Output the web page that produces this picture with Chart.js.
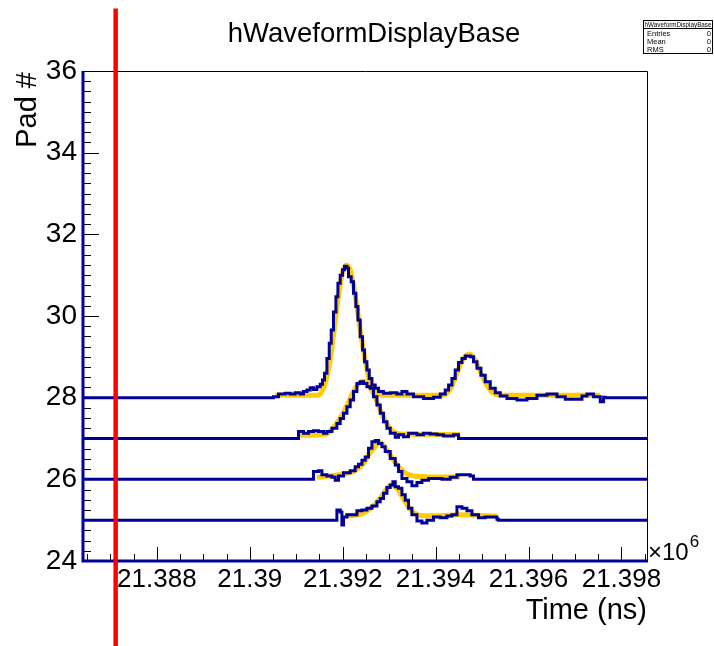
<!DOCTYPE html>
<html>
<head>
<meta charset="utf-8">
<script src="https://cdn.jsdelivr.net/npm/chart.js@4.4.0/dist/chart.umd.min.js"></script>
<style>
html, body { margin: 0; padding: 0; background: #fff; }
canvas { display: block; }
</style>
</head>
<body>
<canvas id="c" width="714" height="646"></canvas>
<script>
// axis ranges (time in ns, pads)
var xRange = [21386410, 21398550];
var yRange = [24, 36];
var xTickValues = [21388000, 21390000, 21392000, 21394000, 21396000, 21398000];
var yTickValues = [24, 26, 28, 30, 32, 34, 36];

// red marker line
var markerTime = 21387113;
var markerSpan = [21.9, 37.53];

// pad 28 waveform + fit
var pad28Time = [21390510, 21390618, 21390762, 21390870, 21390978, 21391085, 21391156, 21391230, 21391301, 21391372,
  21391445, 21391516, 21391565, 21391608, 21391660, 21391710, 21391753, 21391802, 21391854, 21391897,
  21391946, 21391996, 21392039, 21392091, 21392125, 21392183, 21392233, 21392284, 21392328, 21392377,
  21392427, 21392470, 21392521, 21392571, 21392629, 21392700, 21392771, 21392879, 21393023, 21393167,
  21393275, 21393383, 21393525, 21393740, 21393955, 21394100, 21394207, 21394279, 21394351, 21394422,
  21394493, 21394567, 21394638, 21394745, 21394816, 21394890, 21394976, 21395068, 21395176, 21395284,
  21395391, 21395536, 21395751, 21395966, 21396181, 21396397, 21396612, 21396791, 21396969, 21397150,
  21397258, 21397400, 21397544, 21397615, 21397650];
var pad28Amp = [28.02, 28.09, 28.11, 28.09, 28.12, 28.09, 28.15, 28.19, 28.24, 28.20,
  28.27, 28.33, 28.43, 28.60, 28.96, 29.33, 29.66, 30.10, 30.47, 30.80,
  31.00, 31.13, 31.22, 31.17, 30.96, 30.84, 30.56, 30.23, 29.90, 29.49,
  29.17, 28.88, 28.68, 28.47, 28.31, 28.23, 28.15, 28.11, 28.12, 28.09,
  28.15, 28.09, 28.02, 27.98, 28.01, 28.09, 28.19, 28.31, 28.47, 28.68,
  28.86, 28.96, 29.02, 29.00, 28.88, 28.72, 28.55, 28.39, 28.23, 28.12,
  28.04, 27.98, 27.94, 27.98, 28.06, 28.09, 28.02, 27.96, 27.96, 28.04,
  28.09, 28.02, 27.90, 28.01, 28.00];
var pad28FitTime = [21390547, 21391473, 21391559, 21391645, 21391731, 21391817, 21391903, 21391989, 21392076, 21392162,
  21392248, 21392334, 21392420, 21392506, 21392592, 21392700, 21392851, 21394143, 21394315, 21394466,
  21394595, 21394724, 21394853, 21394982, 21395111, 21395241, 21395391, 21397544];
var pad28FitAmp = [28.06, 28.06, 28.16, 28.43, 28.92, 29.66, 30.44, 31.03, 31.25, 31.13,
  30.64, 30.00, 29.34, 28.78, 28.38, 28.16, 28.06, 28.06, 28.21, 28.63,
  28.95, 29.07, 28.92, 28.58, 28.29, 28.11, 28.06, 28.06];

// pad 27
var pad27Time = [21391014, 21391049, 21391156, 21391264, 21391372, 21391479, 21391587, 21391660, 21391768, 21391875,
  21391946, 21392017, 21392091, 21392162, 21392233, 21392306, 21392377, 21392448, 21392521, 21392592,
  21392663, 21392737, 21392808, 21392879, 21392952, 21393023, 21393131, 21393202, 21393309, 21393417,
  21393598, 21393740, 21393884, 21394028, 21394171, 21394386, 21394493];
var pad27Amp = [27.00, 27.17, 27.13, 27.17, 27.19, 27.17, 27.13, 27.17, 27.25, 27.37,
  27.49, 27.62, 27.78, 27.94, 28.15, 28.35, 28.39, 28.35, 28.27, 28.23,
  28.02, 27.82, 27.62, 27.41, 27.25, 27.13, 27.03, 27.09, 27.04, 27.13,
  27.09, 27.13, 27.11, 27.09, 27.06, 27.09, 27.00];
var pad27FitTime = [21391085, 21391623, 21391796, 21391946, 21392097, 21392226, 21392334, 21392442, 21392549, 21392657,
  21392765, 21392872, 21392980, 21393088, 21393238, 21394530];
var pad27FitAmp = [27.08, 27.10, 27.26, 27.50, 27.82, 28.14, 28.33, 28.41, 28.33, 28.11,
  27.82, 27.53, 27.31, 27.17, 27.11, 27.10];

// pad 26
var pad26Time = [21391337, 21391372, 21391479, 21391552, 21391660, 21391768, 21391839, 21391910, 21392017, 21392162,
  21392269, 21392340, 21392414, 21392485, 21392556, 21392629, 21392700, 21392771, 21392844, 21392915,
  21393023, 21393131, 21393202, 21393275, 21393383, 21393490, 21393598, 21393705, 21393848, 21393992,
  21394136, 21394315, 21394459, 21394601, 21394745, 21394816];
var pad26Amp = [26.00, 26.19, 26.21, 26.11, 26.08, 26.05, 25.98, 26.08, 26.16, 26.21,
  26.31, 26.37, 26.47, 26.55, 26.76, 26.92, 26.95, 26.88, 26.80, 26.68,
  26.51, 26.35, 26.19, 26.02, 25.94, 25.84, 25.92, 25.98, 26.02, 26.02,
  26.00, 26.05, 26.11, 26.11, 26.08, 26.00];
var pad26FitTime = [21391445, 21391946, 21392233, 21392448, 21392549, 21392663, 21392765, 21392808, 21392952, 21393094,
  21393238, 21393383, 21393525, 21393884, 21394530];
var pad26FitAmp = [26.05, 26.12, 26.19, 26.39, 26.58, 26.76, 26.88, 26.90, 26.72, 26.47,
  26.27, 26.13, 26.08, 26.06, 26.06];

// pad 25
var pad25Time = [21391839, 21391875, 21391946, 21391983, 21392017, 21392091, 21392198, 21392306, 21392414, 21392521,
  21392629, 21392737, 21392808, 21392879, 21392952, 21393023, 21393081, 21393131, 21393202, 21393275,
  21393346, 21393417, 21393490, 21393598, 21393705, 21393813, 21393955, 21394100, 21394244, 21394351,
  21394459, 21394567, 21394674, 21394782, 21394924, 21395068, 21395213, 21395320, 21395350];
var pad25Amp = [25.00, 25.25, 25.20, 24.88, 25.08, 25.13, 25.13, 25.23, 25.25, 25.29,
  25.35, 25.45, 25.53, 25.66, 25.80, 25.86, 25.94, 25.82, 25.78, 25.62,
  25.49, 25.29, 25.13, 24.98, 24.93, 25.00, 25.08, 25.06, 25.10, 25.13,
  25.33, 25.29, 25.23, 25.13, 25.06, 25.08, 25.08, 25.02, 25.00];
var pad25FitTime = [21392054, 21392377, 21392592, 21392765, 21392915, 21393044, 21393152, 21393260, 21393383, 21393525,
  21393740, 21394100, 21394459, 21395320];
var pad25FitAmp = [25.10, 25.14, 25.28, 25.48, 25.72, 25.86, 25.80, 25.62, 25.38, 25.19,
  25.11, 25.11, 25.13, 25.10];

var NAVY = '#000099';
var FIT = '#ffcc00';
var FONT = '"Liberation Sans", Arial, Helvetica, sans-serif';

function zip(t, a) {
    return t.map(function (v, i) { return {x: v, y: a[i]}; });
}

function waveform(pad, t, a) {
    // histogram sits on its pad line across the full range
    var pts = [{x: xRange[0], y: pad}].concat(zip(t, a));
    pts.push({x: xRange[1], y: pad});
    return {
        data: pts,
        borderColor: NAVY,
        borderWidth: 3,
        stepped: true,
        pointRadius: 0,
        order: 2
    };
}

function fit(t, a) {
    return {
        data: zip(t, a),
        borderColor: FIT,
        borderWidth: 5,
        cubicInterpolationMode: 'monotone',
        pointRadius: 0,
        order: 3
    };
}

var rootFrame = {
    id: 'rootFrame',
    beforeDatasetsDraw: function (chart) {
        var ctx = chart.ctx, a = chart.chartArea;
        var sx = chart.scales.x, sy = chart.scales.y;
        ctx.save();
        ctx.strokeStyle = '#000';
        ctx.lineWidth = 1;
        ctx.beginPath();
        for (var t = Math.ceil(xRange[0] / 500) * 500; t <= xRange[1]; t += 500) {
            var px = Math.round(sx.getPixelForValue(t)) + 0.5;
            var len = (t % 2000 === 0) ? 14 : 7;
            ctx.moveTo(px, a.bottom);
            ctx.lineTo(px, a.bottom - len);
        }
        for (var i = yRange[0] * 4; i <= yRange[1] * 4; i++) {
            var py = Math.round(sy.getPixelForValue(i / 4)) + 0.5;
            var l2 = (i % 8 === 0) ? 16 : 8;
            ctx.moveTo(a.left, py);
            ctx.lineTo(a.left + l2, py);
        }
        ctx.stroke();
        // top / right frame
        ctx.beginPath();
        ctx.moveTo(a.left, a.top + 0.5);
        ctx.lineTo(a.right + 0.5, a.top + 0.5);
        ctx.lineTo(a.right + 0.5, a.bottom);
        ctx.stroke();
        // left / bottom axis lines
        ctx.strokeStyle = NAVY;
        ctx.lineWidth = 3;
        ctx.beginPath();
        ctx.moveTo(a.left, a.top);
        ctx.lineTo(a.left, a.bottom);
        ctx.lineTo(a.right + 1, a.bottom);
        ctx.stroke();
        ctx.restore();
    },
    afterDraw: function (chart) {
        var ctx = chart.ctx, a = chart.chartArea;
        ctx.save();
        ctx.fillStyle = '#000';
        ctx.textBaseline = 'alphabetic';

        ctx.font = '27.5px ' + FONT;
        ctx.textAlign = 'center';
        ctx.fillText('hWaveformDisplayBase', 374, 42);

        ctx.font = '29px ' + FONT;
        ctx.textAlign = 'right';
        ctx.fillText('Time (ns)', a.right, 619);

        ctx.save();
        ctx.translate(36, a.top + 1);
        ctx.rotate(-Math.PI / 2);
        ctx.textAlign = 'right';
        ctx.fillText('Pad #', 0, 0);
        ctx.restore();

        ctx.textAlign = 'left';
        ctx.font = '24px ' + FONT;
        var base = '\u00d710';
        ctx.fillText(base, a.right + 1, 560);
        var w = ctx.measureText(base).width;
        ctx.font = '17px ' + FONT;
        ctx.fillText('6', a.right + 2 + w, 547);

        // stats box
        ctx.strokeStyle = '#000';
        ctx.lineWidth = 1;
        ctx.strokeRect(643.5, 20.5, 69, 33);
        ctx.beginPath();
        ctx.moveTo(643.5, 28.5);
        ctx.lineTo(712.5, 28.5);
        ctx.stroke();
        ctx.font = '6.3px ' + FONT;
        ctx.textAlign = 'center';
        ctx.fillText('hWaveformDisplayBase', 678, 27);
        ctx.font = '7.5px ' + FONT;
        var rows = ['Entries', 'Mean', 'RMS'];
        for (var r = 0; r < rows.length; r++) {
            ctx.textAlign = 'left';
            ctx.fillText(rows[r], 647, 36 + r * 7.8);
            ctx.textAlign = 'right';
            ctx.fillText('0', 711, 36 + r * 7.8);
        }
        ctx.restore();
    }
};

var datasets = [
    {
        data: [{x: markerTime, y: markerSpan[0]}, {x: markerTime, y: markerSpan[1]}],
        borderColor: '#ff0000',
        borderWidth: 4.5,
        pointRadius: 0,
        clip: false,
        order: 0
    },
    waveform(28, pad28Time, pad28Amp),
    waveform(27, pad27Time, pad27Amp),
    waveform(26, pad26Time, pad26Amp),
    waveform(25, pad25Time, pad25Amp),
    fit(pad28FitTime, pad28FitAmp),
    fit(pad27FitTime, pad27FitAmp),
    fit(pad26FitTime, pad26FitAmp),
    fit(pad25FitTime, pad25FitAmp)
];

new Chart(document.getElementById('c').getContext('2d'), {
    type: 'line',
    data: {datasets: datasets},
    plugins: [rootFrame],
    options: {
        responsive: false,
        animation: false,
        layout: {padding: {top: 71, right: 67, left: 0, bottom: 0}},
        plugins: {legend: {display: false}, tooltip: {enabled: false}},
        scales: {
            x: {
                type: 'linear',
                min: xRange[0],
                max: xRange[1],
                grid: {display: false, drawTicks: false},
                border: {display: false},
                afterBuildTicks: function (s) { s.ticks = xTickValues.map(function (v) { return {value: v}; }); },
                afterFit: function (s) { s.height = 85; },
                ticks: {
                    autoSkip: false,
                    maxRotation: 0,
                    padding: 3,
                    color: '#000',
                    font: {family: FONT, size: 26},
                    callback: function (v) { return String(+(v / 1e6).toFixed(3)); }
                }
            },
            y: {
                type: 'linear',
                min: yRange[0],
                max: yRange[1],
                grid: {display: false, drawTicks: false},
                border: {display: false},
                afterBuildTicks: function (s) { s.ticks = yTickValues.map(function (v) { return {value: v}; }); },
                afterFit: function (s) { s.width = 83; },
                ticks: {
                    autoSkip: false,
                    padding: 6,
                    color: '#000',
                    font: {family: FONT, size: 28},
                    callback: function (v) { return String(v); }
                }
            }
        }
    }
});
</script>
</body>
</html>
